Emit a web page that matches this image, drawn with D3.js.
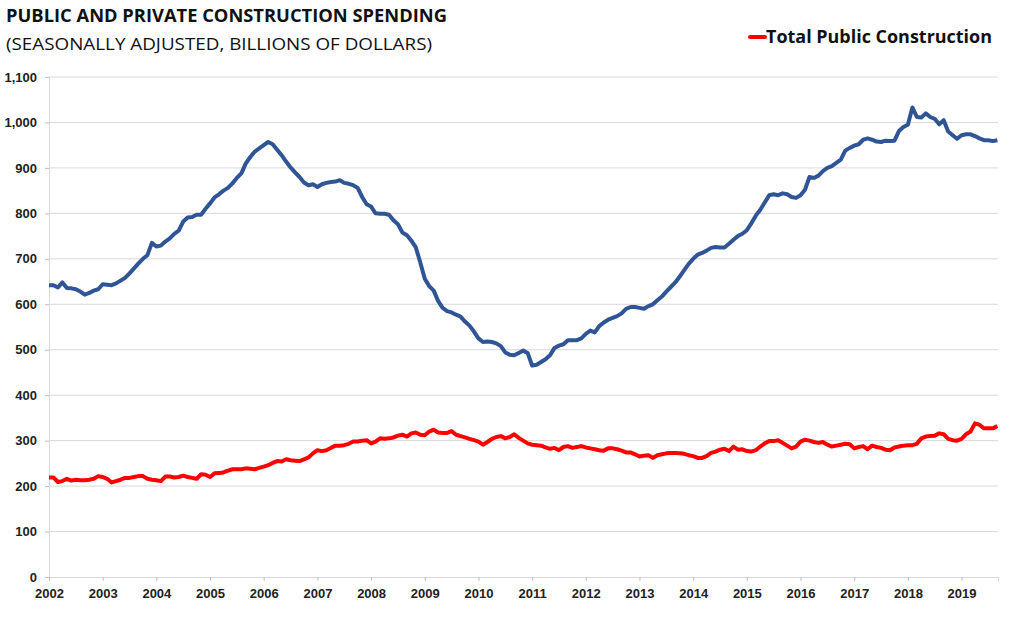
<!DOCTYPE html>
<html>
<head>
    <script src="https://cdnjs.cloudflare.com/ajax/libs/d3/7.8.5/d3.min.js"></script>
    <style>
        body { margin: 0; background: #fff; }
        svg { display: block; font-family: "Open Sans", "Liberation Sans", sans-serif; }
    </style>
</head>
<body>
<script>
const width = 1024, height = 622;

// monthly values, Jan 2002 .. Sep 2019 (billions of dollars, SAAR)
const startYear = 2002;
const yearTicks = d3.range(2002, 2020);
const yTicks = d3.range(0, 1101, 100);

const privateSpend = [
    642, 642, 637, 648, 636, 635, 633, 628, 621, 625, 630, 633,   // 2002
    644, 643, 642, 646, 652, 658, 668, 679, 690, 700, 708, 735,   // 2003
    727, 729, 738, 745, 755, 762, 782, 791, 792, 797, 797, 810,   // 2004
    822, 835, 842, 850, 856, 866, 878, 888, 910, 924, 936, 943,   // 2005
    950, 957, 952, 940, 928, 914, 901, 890, 880, 868, 862, 864,   // 2006
    858, 864, 867, 869, 870, 873, 867, 865, 862, 856, 836, 820,   // 2007
    815, 800, 799, 799, 797, 785, 776, 758, 752, 740, 725, 692,   // 2008
    656, 640, 630, 607, 592, 585, 582, 577, 573, 562, 553, 540,   // 2009
    525, 517, 518, 517, 514, 508, 494, 489, 488, 493, 498, 493,   // 2010
    465, 467, 473, 479, 488, 504, 509, 512, 521, 521, 521, 525,   // 2011
    535, 542, 538, 552, 560, 566, 570, 574, 580, 590, 594, 594,   // 2012
    592, 590, 596, 600, 609, 617, 628, 638, 648, 661, 675, 689,   // 2013
    700, 709, 713, 718, 724, 726, 725, 725, 733, 742, 750, 755,   // 2014
    763, 778, 795, 808, 824, 840, 842, 840, 844, 842, 836, 834,   // 2015
    840, 852, 880, 878, 883, 893, 900, 904, 911, 918, 938, 944,   // 2016
    949, 952, 962, 965, 962, 958, 957, 960, 959, 960, 981, 990,   // 2017
    995, 1033, 1012, 1011, 1020, 1012, 1008, 996, 1005, 980, 972, 964, // 2018
    972, 974, 974, 970, 965, 961, 961, 959, 961                   // 2019
];

const publicSpend = [
    219, 219, 209, 211, 216, 212, 214, 213, 213, 214, 216, 222,   // 2002
    220, 216, 208, 211, 214, 218, 218, 220, 222, 222, 216, 214,   // 2003
    213, 211, 221, 221, 219, 220, 223, 220, 218, 216, 226, 225,   // 2004
    220, 228, 229, 230, 234, 237, 237, 237, 239, 238, 237, 240,   // 2005
    243, 246, 251, 255, 254, 259, 257, 256, 255, 259, 263, 272,   // 2006
    279, 277, 279, 284, 289, 289, 290, 293, 298, 298, 300, 301,   // 2007
    294, 298, 305, 304, 305, 307, 311, 313, 309, 316, 318, 313,   // 2008
    312, 320, 324, 318, 317, 317, 321, 313, 310, 307, 304, 301,   // 2009
    298, 291, 297, 304, 308, 310, 305, 308, 314, 306, 300, 294,   // 2010
    291, 290, 289, 285, 282, 284, 279, 286, 288, 284, 286, 288,   // 2011
    285, 283, 281, 279, 278, 283, 283, 281, 278, 274, 274, 270,   // 2012
    265, 267, 268, 262, 268, 270, 272, 273, 273, 272, 271, 268,   // 2013
    266, 262, 262, 266, 273, 276, 280, 282, 277, 287, 280, 281,   // 2014
    277, 276, 279, 287, 294, 299, 299, 301, 295, 289, 283, 287,   // 2015
    298, 302, 300, 297, 295, 297, 291, 287, 289, 291, 293, 292,   // 2016
    283, 286, 288, 281, 289, 286, 284, 280, 279, 285, 287, 289,   // 2017
    290, 290, 293, 305, 309, 310, 311, 316, 314, 304, 301, 300,   // 2018
    304, 314, 320, 338, 335, 327, 327, 327, 332                   // 2019
];

const margin = { left: 49, right: 26, top: 77, bottom: 45 };

const svg = d3.select("body").append("svg")
    .attr("width", width)
    .attr("height", height);

const x = d3.scaleLinear()
    .domain([startYear, startYear + 212 / 12 + 0.012])
    .range([margin.left, width - margin.right]);

const y = d3.scaleLinear()
    .domain([0, 1100])
    .range([height - margin.bottom, margin.top]);

// gridlines
svg.append("g")
    .selectAll("line")
    .data(yTicks.filter(d => d > 0))
    .join("line")
    .attr("x1", margin.left)
    .attr("x2", width - margin.right)
    .attr("y1", d => y(d))
    .attr("y2", d => y(d))
    .attr("stroke", "#d9d9d9")
    .attr("stroke-width", 1);

// y axis
const yAxis = svg.append("g")
    .attr("transform", `translate(${margin.left},0)`)
    .call(d3.axisLeft(y).tickValues(yTicks).tickSize(4).tickPadding(8).tickFormat(d3.format(",")));
yAxis.select(".domain").attr("stroke", "#d9d9d9");
yAxis.selectAll(".tick line").attr("stroke", "#bfbfbf");
yAxis.selectAll("text")
    .attr("font-size", 13)
    .attr("font-weight", "bold")
    .attr("fill", "#222");

// x axis
const xAxis = svg.append("g")
    .attr("transform", `translate(0,${y(0)})`)
    .call(d3.axisBottom(x).tickValues(yearTicks).tickSize(4).tickPadding(8).tickFormat(d3.format("d")));
xAxis.select(".domain").attr("stroke", "#d9d9d9");
xAxis.selectAll(".tick line").attr("stroke", "#bfbfbf");
xAxis.selectAll("text")
    .attr("font-size", 13)
    .attr("font-weight", "bold")
    .attr("fill", "#222");

const line = d3.line()
    .x((d, i) => x(startYear + i / 12))
    .y(d => y(d));

svg.append("path")
    .datum(privateSpend)
    .attr("fill", "none")
    .attr("stroke", "#2f5597")
    .attr("stroke-width", 4)
    .attr("stroke-linejoin", "round")
    .attr("d", line);

svg.append("path")
    .datum(publicSpend)
    .attr("fill", "none")
    .attr("stroke", "#ff0000")
    .attr("stroke-width", 4)
    .attr("stroke-linejoin", "round")
    .attr("d", line);

// titles
svg.append("text")
    .attr("x", 6).attr("y", 22)
    .attr("font-size", 17).attr("font-weight", "bold").attr("fill", "#111")
    .attr("textLength", 441).attr("lengthAdjust", "spacingAndGlyphs")
    .text("PUBLIC AND PRIVATE CONSTRUCTION SPENDING");

svg.append("text")
    .attr("x", 6).attr("y", 50)
    .attr("font-size", 17).attr("fill", "#111")
    .attr("textLength", 426).attr("lengthAdjust", "spacingAndGlyphs")
    .text("(SEASONALLY ADJUSTED, BILLIONS OF DOLLARS)");

// legend
svg.append("line")
    .attr("x1", 750).attr("x2", 765)
    .attr("y1", 37).attr("y2", 37)
    .attr("stroke", "#ff0000").attr("stroke-width", 4)
    .attr("stroke-linecap", "round");

svg.append("text")
    .attr("x", 766).attr("y", 43)
    .attr("font-size", 18).attr("font-weight", "bold").attr("fill", "#111")
    .attr("textLength", 226).attr("lengthAdjust", "spacingAndGlyphs")
    .text("Total Public Construction");
</script>
</body>
</html>
